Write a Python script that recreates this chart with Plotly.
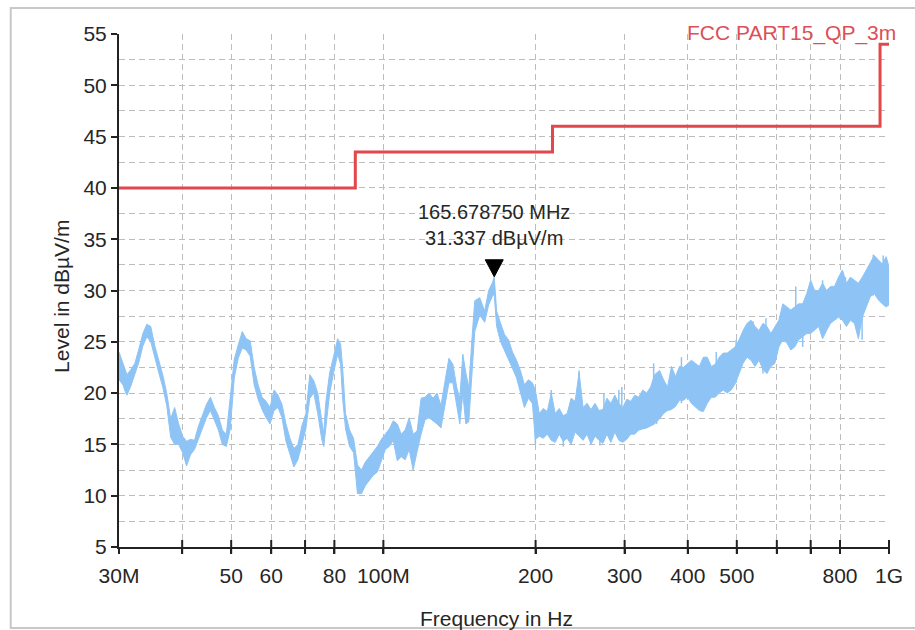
import math
import plotly.graph_objects as go

# ---- Measured spectrum (peak-hold envelope), frequency in MHz, level in dBuV/m ----
freq_mhz = [
    30.00, 30.55, 30.83, 31.11, 31.67, 32.25, 32.84, 33.44, 34.05, 34.67,
    35.31, 35.95, 36.61, 37.28, 37.96, 38.65, 39.36, 40.08, 40.81, 41.55,
    42.31, 43.09, 43.88, 44.68, 45.49, 46.32, 47.17, 48.03, 48.91, 49.80,
    50.71, 51.64, 52.58, 53.54, 54.52, 55.52, 56.53, 57.56, 58.61, 59.69,
    60.78, 61.89, 63.02, 64.17, 65.34, 66.53, 67.75, 68.99, 70.25, 71.53,
    72.84, 74.17, 75.52, 76.21, 76.90, 78.31, 79.74, 81.19, 82.30, 83.05,
    84.18, 85.72, 87.29, 88.88, 90.50, 92.16, 93.84, 95.55, 97.30, 99.08,
    100.89, 102.73, 104.60, 106.52, 108.46, 110.44, 112.46, 114.51, 116.60, 118.73,
    120.90, 123.11, 125.36, 127.65, 129.98, 132.35, 134.77, 137.23, 139.74, 141.65,
    143.59, 145.55, 147.54, 149.55, 151.60, 155.07, 158.61, 161.51, 164.46, 165.67875,
    167.47, 170.53, 173.64, 176.81, 180.04, 183.33, 186.68, 190.09, 193.56, 197.10,
    199.79, 203.44, 207.16, 210.95, 214.80, 218.72, 222.72, 226.79, 230.93, 235.15,
    239.45, 243.82, 248.27, 252.81, 257.43, 262.13, 266.92, 271.80, 276.76, 281.82,
    286.97, 292.21, 297.55, 302.98, 308.52, 314.15, 319.89, 325.74, 331.69, 337.75,
    343.92, 351.79, 358.21, 364.76, 371.42, 378.21, 385.12, 392.15, 399.32, 406.61,
    414.04, 421.60, 429.30, 437.15, 445.13, 453.26, 461.54, 469.98, 478.56, 487.31,
    496.21, 505.27, 514.50, 523.90, 533.47, 543.22, 553.14, 563.25, 573.54, 584.02,
    594.68, 605.55, 616.61, 627.88, 639.35, 651.03, 662.92, 675.03, 687.36, 699.92,
    712.71, 725.73, 738.99, 752.49, 766.23, 780.23, 794.49, 809.00, 823.78, 838.83,
    854.15, 869.76, 885.65, 901.83, 918.30, 935.08, 952.16, 969.56, 987.27, 1000.0,
]
level_hi = [
    24.0, 23.0, 22.5, 21.8, 22.3, 22.9, 24.3, 25.8, 26.7, 26.5,
    24.6, 23.2, 21.8, 20.0, 17.5, 18.6, 17.0, 15.8, 15.3, 15.5,
    15.4, 16.8, 17.8, 18.9, 19.6, 18.6, 17.8, 16.4, 16.0, 20.0,
    23.3, 24.7, 26.0, 25.3, 25.1, 22.5, 20.8, 19.6, 19.2, 18.6,
    20.3, 19.8, 18.9, 17.0, 15.6, 14.6, 15.0, 16.8, 18.0, 21.8,
    21.2, 20.0, 17.0, 16.0, 19.0, 22.0, 23.6, 25.3, 24.8, 22.5,
    18.0, 16.4, 15.6, 13.0, 12.5, 13.3, 13.8, 14.3, 14.8, 15.5,
    16.0, 16.5, 17.3, 17.0, 16.0, 16.4, 17.6, 16.0, 16.3, 19.5,
    19.6, 20.0, 19.5, 20.0, 18.8, 21.0, 23.4, 22.8, 20.5, 19.5,
    23.8, 22.0, 20.5, 25.0, 29.0, 29.3, 28.0, 30.0, 30.8, 31.337,
    28.0, 26.8, 25.7, 25.2, 24.0, 23.2, 22.2, 20.8, 21.3, 21.0,
    20.3, 18.0, 18.5, 18.2, 20.0, 18.0, 18.5, 17.8, 18.0, 19.5,
    19.2, 22.0, 18.6, 19.0, 18.4, 19.0, 18.3, 18.4, 19.5, 19.0,
    19.8, 19.0, 18.6, 19.4, 19.2, 19.8, 19.6, 20.3, 20.0, 20.6,
    21.8, 22.2, 21.3, 20.6, 22.6, 21.6, 22.6, 22.5, 22.9, 23.2,
    22.9, 22.6, 23.5, 23.5, 22.6, 22.8, 23.5, 23.9, 23.9, 24.2,
    24.5, 25.2, 26.1, 26.8, 27.1, 26.5, 26.1, 26.8, 26.5, 25.8,
    26.5, 27.1, 28.7, 28.4, 28.1, 28.4, 28.7, 28.7, 29.7, 31.0,
    30.0, 30.0, 30.7, 30.0, 30.4, 30.4, 31.3, 32.0, 30.7, 31.3,
    31.0, 30.7, 31.3, 32.0, 32.6, 33.4, 33.0, 32.6, 33.3, 32.3,
]
level_lo = [
    21.3, 20.8, 20.2, 19.8, 20.7, 21.8, 23.0, 24.6, 25.5, 25.0,
    23.6, 22.0, 20.6, 18.8, 15.7, 15.0, 15.0, 14.2, 12.9, 14.0,
    14.5, 15.5, 16.6, 17.6, 18.3, 17.4, 16.4, 15.0, 14.8, 16.5,
    21.5, 23.4, 24.4, 24.2, 23.6, 20.8, 19.4, 18.4, 17.6, 17.0,
    18.3, 18.6, 17.6, 15.3, 14.0, 12.8, 13.5, 15.0, 16.5, 19.5,
    20.0, 18.0, 15.5, 14.8, 16.5, 20.0, 22.0, 23.8, 22.8, 19.5,
    16.5, 14.8, 14.2, 10.2, 10.2, 11.0, 11.5, 12.0, 12.3, 13.5,
    14.5, 14.8, 15.4, 13.4, 13.8, 13.5, 14.5, 12.5, 14.3, 16.0,
    17.4, 17.6, 17.3, 17.0, 16.6, 18.8, 21.0, 21.0, 18.8, 17.0,
    20.0, 17.0, 17.2, 22.0, 26.0, 27.6, 26.9, 28.6, 29.5, 29.6,
    26.5, 25.0, 24.2, 23.3, 22.4, 21.5, 20.0, 18.6, 19.5, 19.0,
    15.5, 15.8, 15.6, 16.0, 15.4, 15.2, 16.0, 15.3, 15.6, 15.0,
    16.2, 15.8, 15.4, 16.0, 15.0, 15.8, 15.4, 15.1, 16.0, 15.2,
    16.2, 15.4, 15.2, 15.5, 16.0, 16.0, 16.4, 16.5, 16.6, 16.8,
    17.0, 17.5, 18.0, 18.3, 18.4, 18.7, 19.3, 19.3, 19.6, 19.0,
    18.7, 18.3, 18.2, 19.0, 19.6, 19.6, 20.0, 20.3, 20.0, 20.3,
    20.9, 21.9, 22.9, 23.5, 23.2, 22.6, 23.2, 22.3, 21.9, 22.6,
    22.9, 24.5, 25.2, 24.9, 24.2, 24.5, 25.2, 25.5, 25.8, 25.8,
    26.1, 26.5, 25.3, 26.1, 26.8, 27.1, 27.4, 27.1, 26.5, 27.1,
    26.8, 25.3, 27.4, 28.4, 29.4, 29.7, 29.1, 28.7, 28.4, 28.6,
]

# Isolated single-bin excursions of the sweep (MHz, from level, to level)
spike_freq_mhz = [199.8, 214.8, 226.8, 243.8, 268.1, 273.0, 292.2, 296.2, 342.4, 347.1,
                  388.6, 431.3, 455.3, 498.5, 538.4, 563.3, 571.0, 616.6, 654.0, 675.0,
                  739.0, 820.2, 884.7, 930.9, 973.8]
spike_from = [18.0, 16.0, 17.0, 16.0, 17.0, 16.0, 16.0, 16.0, 17.0, 17.0,
              19.0, 19.0, 20.0, 21.0, 23.0, 25.0, 22.5, 25.0, 25.0, 27.0,
              26.0, 27.0, 29.0, 29.5, 29.0]
spike_to = [15.0, 20.3, 14.8, 22.2, 14.9, 20.0, 20.3, 20.6, 22.9, 21.9,
            23.5, 23.5, 24.0, 25.2, 27.0, 21.9, 27.3, 28.4, 30.4, 24.5,
            31.0, 31.3, 25.2, 33.5, 33.4]

# ---- FCC Part 15 class B quasi-peak limit at 3 m ----
limit_name = "FCC PART15_QP_3m"
limit_freq_mhz = [30, 88, 216, 960, 1000]
limit_level = [40.0, 43.5, 46.0, 54.0, 54.0]

# ---- Peak marker ----
peak_freq_mhz = 165.67875
peak_level = 31.337

# ---- Axis ticks ----
x_tick_mhz = [30, 40, 50, 60, 70, 80, 100, 200, 300, 400, 500, 600, 700, 800, 1000]
x_tick_text = ["30M", "", "50", "60", "", "80", "100M", "200", "300", "400", "500", "", "", "800", "1G"]
y_major = [5, 10, 15, 20, 25, 30, 35, 40, 45, 50, 55]
y_minor = [7.5, 12.5, 17.5, 22.5, 27.5, 32.5, 37.5, 42.5, 47.5, 52.5]

FONT = "Arial, 'Liberation Sans', sans-serif"
TXT = "#262626"
TRACE = "#8ec4f5"
LIMIT = "#e2474b"
GRID = "#bdbdbd"
DASH = "6px,4px"
AX = "#222"

MHZ = 1e6
x_range = [math.log10(30 * MHZ), math.log10(1000 * MHZ)]
y_range = [5, 55]

fig = go.Figure()

# Spectrum envelope drawn as a filled band between the low and high edges
band_x = [f * MHZ for f in freq_mhz] + [f * MHZ for f in reversed(freq_mhz)]
band_y = list(level_hi) + list(reversed(level_lo))
fig.add_trace(go.Scatter(
    x=band_x, y=band_y, mode="lines", fill="toself",
    fillcolor=TRACE, line=dict(color=TRACE, width=1),
    hoverinfo="skip", showlegend=False,
))

# Single-bin spikes as thin vertical strokes
sx, sy = [], []
for f, a, b in zip(spike_freq_mhz, spike_from, spike_to):
    sx += [f * MHZ, f * MHZ, None]
    sy += [a, b, None]
fig.add_trace(go.Scatter(
    x=sx, y=sy, mode="lines", line=dict(color=TRACE, width=1.5),
    hoverinfo="skip", showlegend=False,
))

# Limit line
fig.add_trace(go.Scatter(
    x=[f * MHZ for f in limit_freq_mhz], y=limit_level,
    mode="lines", line=dict(color=LIMIT, width=3, shape="hv"),
    name=limit_name, showlegend=False,
))

# Tick marks that cross the axis lines (centred line markers)
fig.add_trace(go.Scatter(
    x=[t * MHZ for t in x_tick_mhz], y=[y_range[0]] * len(x_tick_mhz),
    mode="markers", cliponaxis=False, hoverinfo="skip", showlegend=False,
    marker=dict(symbol="line-ns", size=10, line=dict(color=AX, width=2)),
))
fig.add_trace(go.Scatter(
    x=[30 * MHZ] * len(y_minor), y=y_minor,
    mode="markers", cliponaxis=False, hoverinfo="skip", showlegend=False,
    marker=dict(symbol="line-ew", size=10, line=dict(color=AX, width=2)),
))

fig.update_layout(
    width=915, height=630,
    margin=dict(l=119, r=21, t=34, b=83, pad=0),
    paper_bgcolor="white", plot_bgcolor="white",
    font=dict(family=FONT, size=21, color=TXT),
    showlegend=False,
    xaxis=dict(
        type="log", range=x_range, tickvals=[t * MHZ for t in x_tick_mhz],
        ticktext=x_tick_text, zeroline=False, fixedrange=True,
        ticks="outside", ticklen=5, tickwidth=2, tickcolor=AX,
        showline=True, linecolor=AX, linewidth=2,
        showgrid=True, gridcolor=GRID, griddash=DASH, gridwidth=1,
        tickfont=dict(size=21, color=TXT), ticklabelstandoff=4,
    ),
    yaxis=dict(
        range=y_range, tickvals=y_major, zeroline=False, fixedrange=True,
        ticks="outside", ticklen=6, tickwidth=2, tickcolor=AX,
        showline=True, linecolor=AX, linewidth=2,
        showgrid=True, gridcolor=GRID, griddash=DASH, gridwidth=1,
        tickfont=dict(size=21, color=TXT),
        minor=dict(tickvals=y_minor, ticks="", showgrid=True, gridcolor=GRID,
                   griddash=DASH, gridwidth=1),
    ),
)

# Axis titles
fig.add_annotation(text="Frequency in Hz", xref="paper", yref="paper",
                   x=0.49, y=-0.139, xanchor="center", yanchor="middle",
                   showarrow=False, font=dict(size=21, color=TXT))
fig.add_annotation(text="Level in dBµV/m", xref="paper", yref="paper",
                   x=-0.075, y=0.488, xanchor="center", yanchor="middle",
                   textangle=-90, showarrow=False, font=dict(size=21, color=TXT))

# Limit name
fig.add_annotation(text=limit_name, xref="paper", yref="paper",
                   x=1.012, y=1.002, xanchor="right", yanchor="middle",
                   showarrow=False, font=dict(size=21, color="#dd4f57"))

# Peak marker: triangle pointing at the peak plus its readout
peak_hz = peak_freq_mhz * MHZ
fig.add_shape(type="path", xref="x", yref="y",
              xsizemode="pixel", ysizemode="pixel",
              xanchor=peak_hz, yanchor=peak_level,
              path="M-9,17 L9,17 L0,0 Z",
              fillcolor="black", line=dict(color="black", width=1))
fig.add_annotation(
    text=f"{peak_freq_mhz:.6f} MHz<br>{peak_level:.3f} dBµV/m",
    xref="x", yref="y", x=math.log10(peak_hz), y=peak_level,
    xanchor="center", yanchor="bottom", yshift=26, showarrow=False,
    font=dict(size=20, color=TXT), align="center",
)

# Outer frame of the picture (open on the right, where it runs off the page)
fig.add_shape(type="path", xref="paper", yref="paper",
              path="M 1.06,-0.158 L -0.1406,-0.158 L -0.1406,1.0507 L 1.06,1.0507",
              line=dict(color="#c8c8c8", width=2), layer="below")

fig.write_html("out.html")
